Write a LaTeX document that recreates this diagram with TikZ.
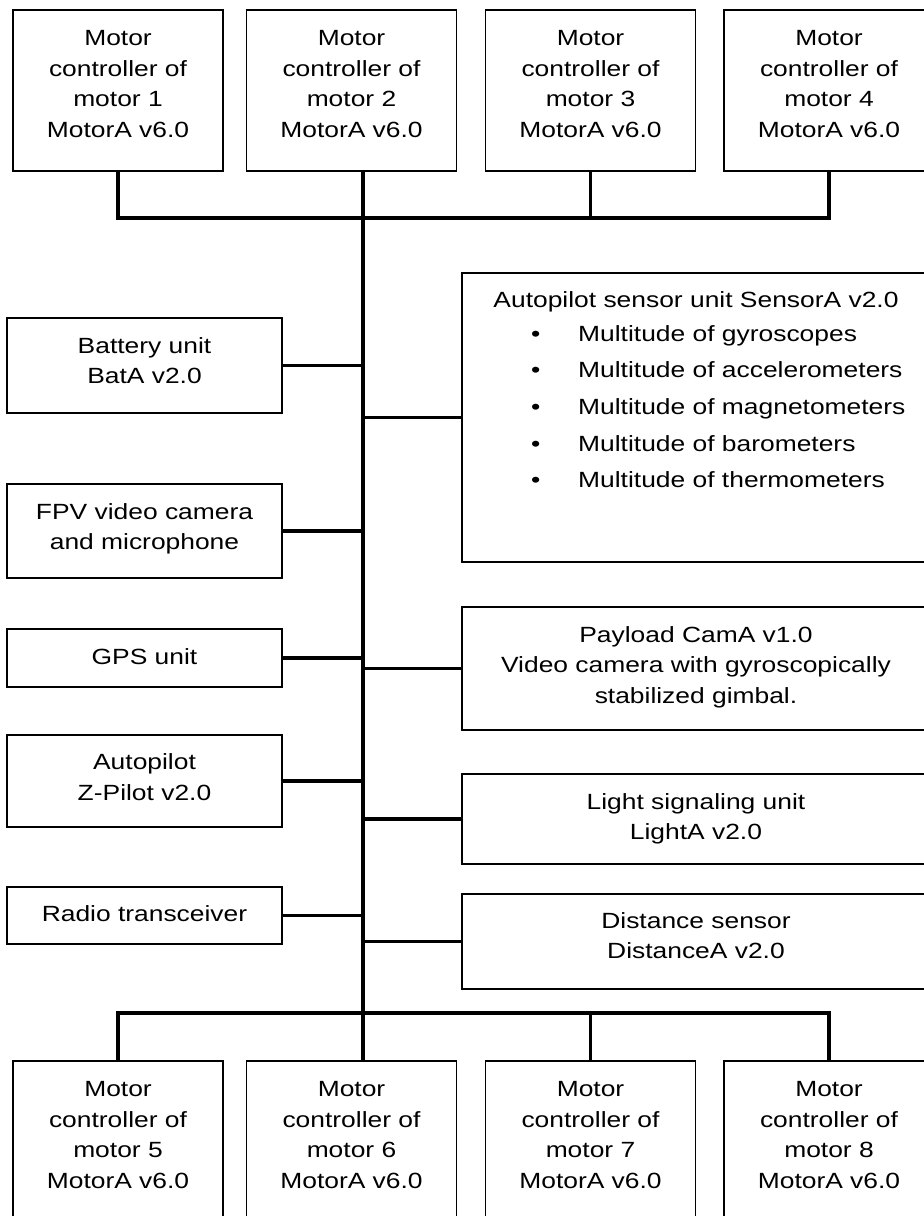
\documentclass[tikz,border=0pt]{standalone}
\usepackage{fontspec}
\setmainfont{Liberation Sans}[FakeStretch=1.2]
\newcommand{\blt}{\makebox[0pt]{\textbullet}\hspace{42.5pt}}
\begin{document}
\begin{tikzpicture}[x=1pt,y=-1pt,
  unit/.style={draw=black, line width=1.8pt, inner sep=0pt, fill=white},
  motorbox/.style={unit, minimum width=210pt, minimum height=161pt},
  leftbox/.style={unit, minimum width=275pt},
  rightbox/.style={unit, minimum width=468pt},
  txt/.style={anchor=north, inner sep=0pt, align=center,
    font=\fontsize{22}{30.5}\selectfont},
  bus/.style={line width=3.8pt, draw=black},
  link/.style={line width=3.4pt, draw=black}]
\useasboundingbox (0,0) rectangle (924,1216);
\clip (0,0) rectangle (924,1216);
\fill[white] (0,0) rectangle (924,1216);

% trunk coordinates
\coordinate (ttop) at (363,218);
\coordinate (tbot) at (363,1013);

% motor controllers, upper row
\node[motorbox] (m1) at (118,90.5) {};
\node[motorbox] (m2) at (351.5,90.5) {};
\node[motorbox] (m3) at (590.5,90.5) {};
\node[motorbox] (m4) at (829,90.5) {};
% motor controllers, lower row
\node[motorbox] (m5) at (118,1141.5) {};
\node[motorbox] (m6) at (351.5,1141.5) {};
\node[motorbox] (m7) at (590.5,1141.5) {};
\node[motorbox] (m8) at (829,1141.5) {};

% units on the left
\node[leftbox, minimum height=95pt] (bat) at (144.5,365.5) {};
\node[leftbox, minimum height=94pt] (fpv) at (144.5,531) {};
\node[leftbox, minimum height=58pt] (gps) at (144.5,658) {};
\node[leftbox, minimum height=92pt] (ap) at (144.5,781) {};
\node[leftbox, minimum height=57pt] (radio) at (144.5,915.5) {};

% units on the right
\node[rightbox, minimum height=289pt] (sensor) at (696,417.5) {};
\node[rightbox, minimum height=123pt] (payload) at (696,668.5) {};
\node[rightbox, minimum height=90pt] (light) at (696,819) {};
\node[rightbox, minimum height=95pt] (dist) at (696,941.5) {};

% labels (a strut opens each first line, so its baseline sits 0.7 baselineskip below the node top)
\node[txt] (m1t) at ([yshift=-15pt]m1.north) {\strut Motor\\controller of\\motor 1\\MotorA v6.0};
\node[txt] (m2t) at ([yshift=-15pt]m2.north) {\strut Motor\\controller of\\motor 2\\MotorA v6.0};
\node[txt] (m3t) at ([yshift=-15pt]m3.north) {\strut Motor\\controller of\\motor 3\\MotorA v6.0};
\node[txt] (m4t) at ([yshift=-15pt]m4.north) {\strut Motor\\controller of\\motor 4\\MotorA v6.0};
\node[txt] (m5t) at ([yshift=-15pt]m5.north) {\strut Motor\\controller of\\motor 5\\MotorA v6.0};
\node[txt] (m6t) at ([yshift=-15pt]m6.north) {\strut Motor\\controller of\\motor 6\\MotorA v6.0};
\node[txt] (m7t) at ([yshift=-15pt]m7.north) {\strut Motor\\controller of\\motor 7\\MotorA v6.0};
\node[txt] (m8t) at ([yshift=-15pt]m8.north) {\strut Motor\\controller of\\motor 8\\MotorA v6.0};

\node[txt] (batt) at ([yshift=-14.7pt]bat.north) {\strut Battery unit\\BatA v2.0};
\node[txt] (fpvt) at ([yshift=-14.7pt]fpv.north) {\strut FPV video camera\\and microphone};
\node[txt] (gpst) at ([yshift=-14.7pt]gps.north) {\strut GPS unit};
\node[txt] (apt) at ([yshift=-14pt]ap.north) {\strut Autopilot\\Z-Pilot v2.0};
\node[txt] (radiot) at ([yshift=-14pt]radio.north) {\strut Radio transceiver};

\node[txt] (sensort) at ([yshift=-13.7pt]sensor.north) {\strut Autopilot sensor unit SensorA v2.0};
\node[anchor=north west, inner sep=0pt, align=left,
  font=\fontsize{22}{36.7}\selectfont]
  (sensorlist) at (535.5,315.3)
  {\strut\blt Multitude of gyroscopes\\
   \blt Multitude of accelerometers\\
   \blt Multitude of magnetometers\\
   \blt Multitude of barometers\\
   \blt Multitude of thermometers};
\node[txt] (payloadt) at ([yshift=-14.7pt]payload.north) {\strut Payload CamA v1.0\\Video camera with gyroscopically\\stabilized gimbal.};
\node[txt] (lightt) at ([yshift=-14.7pt]light.north) {\strut Light signaling unit\\LightA v2.0};
\node[txt] (distt) at ([yshift=-13.5pt]dist.north) {\strut Distance sensor\\DistanceA v2.0};

% bus lines
\draw[bus] (m1.south) |- (ttop) -| (m4.south);
\draw[bus] (m3.south) -- (m3.south |- ttop);
\draw[bus] (m2.south -| ttop) -- (tbot);
\draw[bus] (m5.north) |- (tbot) -| (m8.north);
\draw[bus] (m7.north) -- (m7.north |- tbot);
\draw[bus] (tbot) -- (tbot |- m6.north);

% branch lines
\draw[link] (bat.east) -- (bat.east -| ttop);
\draw[link] (fpv.east) -- (fpv.east -| ttop);
\draw[link] (gps.east) -- (gps.east -| ttop);
\draw[link] (ap.east) -- (ap.east -| ttop);
\draw[link] (radio.east) -- (radio.east -| ttop);
\draw[link] (sensor.west) -- (sensor.west -| ttop);
\draw[link] (payload.west) -- (payload.west -| ttop);
\draw[link] (light.west) -- (light.west -| ttop);
\draw[link] (dist.west) -- (dist.west -| ttop);
\end{tikzpicture}
\end{document}
